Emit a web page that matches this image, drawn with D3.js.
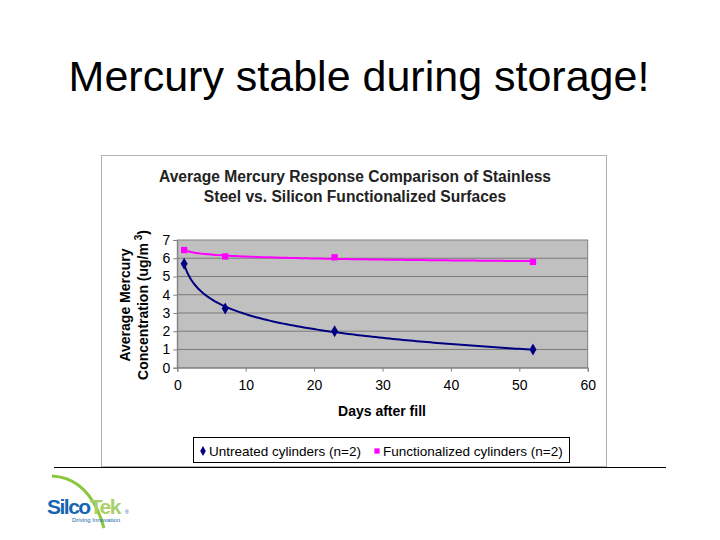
<!DOCTYPE html>
<html><head><meta charset="utf-8">
<script src="https://cdn.jsdelivr.net/npm/d3@7"></script>
<style>body{margin:0;background:#fff}</style></head>
<body><svg id="c" width="720" height="540"></svg>
<script>
const days = [1, 7, 23, 52];
const untreated = [5.7, 3.25, 2.0, 1.0];
const functionalized = [6.45, 6.1, 6.05, 5.8];
const xTicks = [0,10,20,30,40,50,60];
const yTicks = [0,1,2,3,4,5,6,7];
const seriesNames = ["Untreated cylinders (n=2)", "Functionalized cylinders (n=2)"];

const svg = d3.select("#c");
const F = "Liberation Sans, Arial, sans-serif";
svg.append("text").attr("x",359).attr("y",91).attr("text-anchor","middle")
  .attr("font-family",F).attr("font-size",43).text("Mercury stable during storage!");
svg.append("rect").attr("x",101.5).attr("y",155.5).attr("width",505).attr("height",311)
  .attr("fill","#fff").attr("stroke","#b0b0b0");
svg.append("line").attr("x1",54).attr("x2",666).attr("y1",467.5).attr("y2",467.5).attr("stroke","#000").attr("stroke-width",1.2);
svg.append("text").attr("x",355).attr("y",182).attr("text-anchor","middle").attr("font-family",F)
  .attr("font-weight","bold").attr("font-size",15.6).attr("fill","#222").text("Average Mercury Response Comparison of Stainless");
svg.append("text").attr("x",355).attr("y",202).attr("text-anchor","middle").attr("font-family",F)
  .attr("font-weight","bold").attr("font-size",15.6).attr("fill","#222").text("Steel vs. Silicon Functionalized Surfaces");

const x = d3.scaleLinear().domain([0,60]).range([177.3,587.7]);
const y = d3.scaleLinear().domain([0,7]).range([367.7,240]);
svg.append("rect").attr("x",x(0)).attr("y",y(7)).attr("width",x(60)-x(0)).attr("height",y(0)-y(7))
  .attr("fill","#c0c0c0").attr("stroke","#808080");
svg.append("g").selectAll("line").data(yTicks.slice(1,-1)).join("line")
  .attr("x1",x(0)).attr("x2",x(60)).attr("y1",d=>y(d)).attr("y2",d=>y(d)).attr("stroke","#7a7a7a");
const ax = svg.append("g").attr("transform",`translate(0,${y(0)})`).call(d3.axisBottom(x).tickValues(xTicks).tickFormat(d3.format("d")).tickSize(4));
const ay = svg.append("g").attr("transform",`translate(${x(0)},0)`).call(d3.axisLeft(y).tickValues(yTicks).tickFormat(d3.format("d")).tickSize(4));
[ax,ay].forEach(a=>{a.selectAll("text").attr("font-family",F).attr("font-size",14).attr("fill","#000");
  a.selectAll("line,path").attr("stroke","#808080");});
ax.selectAll("text").attr("dy","1.1em");
svg.append("text").attr("x",382).attr("y",416).attr("text-anchor","middle").attr("font-family",F)
  .attr("font-weight","bold").attr("font-size",14).text("Days after fill");
const yl = svg.append("text").attr("transform","translate(130,305) rotate(-90)").attr("text-anchor","middle")
  .attr("font-family",F).attr("font-weight","bold").attr("font-size",14);
yl.append("tspan").attr("x",0).attr("dy",0).text("Average Mercury");
const t2 = yl.append("tspan").attr("x",0).attr("dy",18).text("Concentration (ug/m");
t2.append("tspan").attr("dy",-6).attr("font-size",10).text(" 3");
t2.append("tspan").attr("dy",6).text(")");

function logFit(xs, ys){
  const lx = xs.map(Math.log);
  const mx=d3.mean(lx), my=d3.mean(ys);
  const b=d3.sum(lx.map((v,i)=>(v-mx)*(ys[i]-my)))/d3.sum(lx.map(v=>(v-mx)**2));
  return t => my + b*(Math.log(t)-mx);
}
const grid = d3.range(1, 52.01, 0.5);
const line = d3.line().x(d=>x(d[0])).y(d=>y(d[1]));
[[untreated,"#000080",d3.symbolDiamond],[functionalized,"#ff00ff",d3.symbolSquare]].forEach(([vals,col,sym])=>{
  const f = logFit(days, vals);
  svg.append("path").attr("d",line(grid.map(t=>[t,f(t)]))).attr("fill","none").attr("stroke",col).attr("stroke-width",2);
  svg.append("g").selectAll("path").data(days).join("path")
    .attr("transform",(d,i)=>`translate(${x(d)},${y(vals[i])})`)
    .attr("d",d3.symbol().type(sym).size(sym===d3.symbolSquare?40:42)).attr("fill",col);
});
svg.append("rect").attr("x",193.5).attr("y",437.5).attr("width",376).attr("height",25).attr("fill","#fff").attr("stroke","#000");
[[0,"#000080",d3.symbolDiamond,203],[1,"#ff00ff",d3.symbolSquare,377]].forEach(([i,col,sym,lx])=>{
  svg.append("path").attr("transform",`translate(${lx},451)`).attr("d",d3.symbol().type(sym).size(28)).attr("fill",col);
  svg.append("text").attr("x",lx+6).attr("y",455.5).attr("font-family",F).attr("font-size",13.5).text(seriesNames[i]);
});
svg.append("path").attr("d","M52,476 Q90,478 104,528").attr("fill","none").attr("stroke","#8cc63f").attr("stroke-width",3);
const lg = svg.append("text").attr("x",47).attr("y",514).attr("font-family",F).attr("font-weight","bold").attr("font-size",21).attr("letter-spacing",-1.5);
lg.append("tspan").attr("fill","#1565b0").text("Silco");
lg.append("tspan").attr("fill","#a8d06a").text("Tek");
svg.append("text").attr("x",125).attr("y",514).attr("font-family",F).attr("font-size",5).attr("fill","#1565b0").text("®");
svg.append("text").attr("x",72).attr("y",522).attr("font-family",F).attr("font-size",6).attr("fill","#1565b0").text("Driving Innovation");
</script></body></html>
